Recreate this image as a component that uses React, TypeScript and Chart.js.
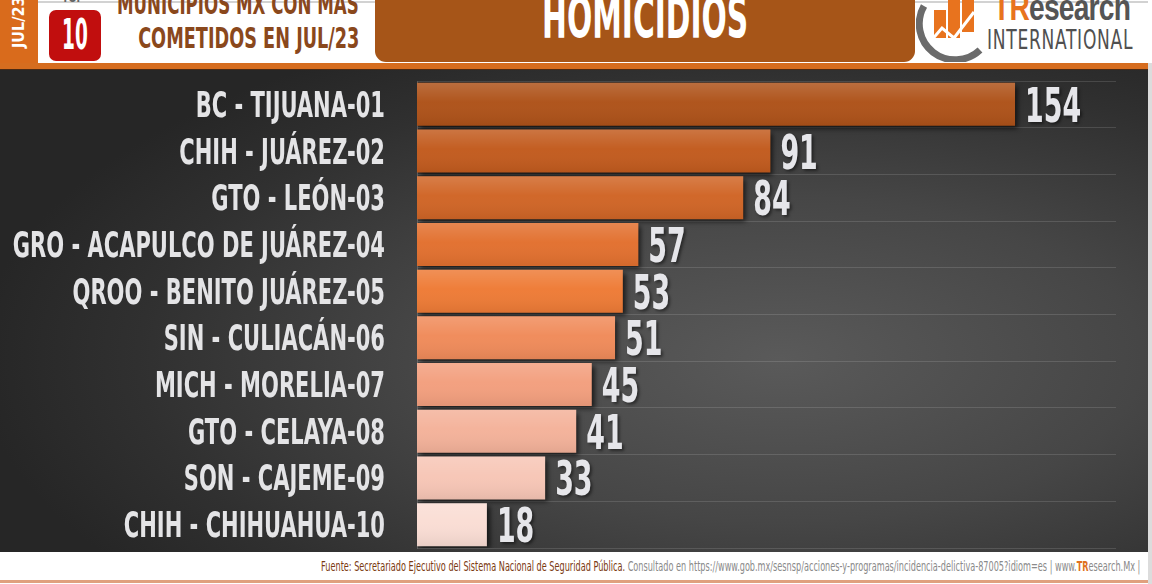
import React, { useEffect, useLayoutEffect, useRef, useState } from "react";
import { Chart, registerables } from "chart.js";

Chart.register(...registerables);

const categories = [
  "BC - TIJUANA-01",
  "CHIH - JUÁREZ-02",
  "GTO - LEÓN-03",
  "GRO - ACAPULCO DE JUÁREZ-04",
  "QROO - BENITO JUÁREZ-05",
  "SIN - CULIACÁN-06",
  "MICH - MORELIA-07",
  "GTO - CELAYA-08",
  "SON - CAJEME-09",
  "CHIH - CHIHUAHUA-10",
];
const homicidios = [154, 91, 84, 57, 53, 51, 45, 41, 33, 18];
const barColors = [
  "#AE5219",
  "#C25B1E",
  "#D06526",
  "#E2702F",
  "#EE7B36",
  "#F08B5A",
  "#F39F7E",
  "#F4B29A",
  "#F7C6B6",
  "#FADDD4",
];

const NARROW = "'Liberation Sans Narrow', 'DejaVu Sans Condensed', 'DejaVu Sans', sans-serif";

function inkWidth(ctx: CanvasRenderingContext2D, t: string) {
  const m = ctx.measureText(t);
  const w = (m.actualBoundingBoxRight || 0) + (m.actualBoundingBoxLeft || 0);
  return w > 0 ? w : m.width;
}

const labelsPlugin = {
  id: "customLabels",
  beforeDatasetsDraw(chart: any) {
    const ctx = chart.ctx;
    ctx.save();
    ctx.shadowColor = "rgba(0,0,0,0.65)";
    ctx.shadowOffsetX = 3;
    ctx.shadowOffsetY = 3;
    ctx.shadowBlur = 5;
  },
  afterDatasetsDraw(chart: any) {
    const ctx = chart.ctx;
    ctx.restore();
    const meta = chart.getDatasetMeta(0);
    const yScale = chart.scales.y;
    meta.data.forEach((bar: any) => {
      const top = bar.y - bar.height / 2;
      const bottom = bar.y + bar.height / 2;
      const g = ctx.createLinearGradient(0, top, 0, bottom);
      g.addColorStop(0, "rgba(255,255,255,0.16)");
      g.addColorStop(0.45, "rgba(255,255,255,0.02)");
      g.addColorStop(1, "rgba(0,0,0,0.07)");
      ctx.fillStyle = g;
      ctx.fillRect(bar.base, top, bar.x - bar.base, bottom - top);
    });
    // category labels
    ctx.save();
    ctx.fillStyle = "#E4E4E6";
    ctx.textAlign = "right";
    ctx.textBaseline = "alphabetic";
    ctx.font = `bold 35px ${NARROW}`;
    const sxCat = 371 / inkWidth(ctx, categories[3]);
    categories.forEach((c, i) => {
      const y = yScale.getPixelForValue(i);
      ctx.save();
      ctx.translate(385, y + 12.5);
      ctx.scale(sxCat, 1);
      ctx.fillText(c, 0, 0);
      ctx.restore();
    });
    ctx.restore();
    // value labels
    ctx.save();
    ctx.fillStyle = "#E6E6EA";
    ctx.textAlign = "left";
    ctx.textBaseline = "alphabetic";
    ctx.font = `bold 48px ${NARROW}`;
    const sxVal = 53 / inkWidth(ctx, String(homicidios[0]));
    ctx.shadowColor = "rgba(0,0,0,0.45)";
    ctx.shadowOffsetX = 2;
    ctx.shadowOffsetY = 2;
    ctx.shadowBlur = 3;
    meta.data.forEach((bar: any, i: number) => {
      ctx.save();
      ctx.translate(bar.x + 10, bar.y + 17.5);
      ctx.scale(sxVal, 1);
      ctx.fillText(String(homicidios[i]), 0, 0);
      ctx.restore();
    });
    ctx.restore();
  },
};

function ChartCanvas() {
  const ref = useRef<HTMLCanvasElement | null>(null);
  useEffect(() => {
    if (!ref.current) return;
    const chart = new Chart(ref.current, {
      type: "bar",
      data: {
        labels: categories,
        datasets: [
          {
            data: homicidios,
            backgroundColor: barColors,
            borderWidth: 0,
            barPercentage: 0.92,
            categoryPercentage: 1.0,
          },
        ],
      },
      options: {
        indexAxis: "y",
        responsive: false,
        animation: false,
        layout: { padding: { top: 11, bottom: 4, left: 0, right: 32 } },
        plugins: {
          legend: { display: false },
          tooltip: { enabled: false },
          title: { display: false },
        },
        scales: {
          x: { display: false, min: 0, max: 180 },
          y: {
            offset: true,
            ticks: { display: false },
            grid: {
              display: true,
              offset: true,
              color: "rgba(255,255,255,0.13)",
              drawTicks: false,
              lineWidth: 1,
            },
            border: { display: true, color: "rgba(255,255,255,0.22)" },
            afterFit(scale: any) {
              scale.width = 417;
            },
          },
        },
      } as any,
      plugins: [labelsPlugin],
    });
    return () => chart.destroy();
  }, []);
  return <canvas ref={ref} width={1148} height={482} style={{ display: "block" }} />;
}

const abs = (s: React.CSSProperties): React.CSSProperties => ({ position: "absolute", whiteSpace: "nowrap", ...s });

type FitProps = {
  x: number;
  top: number;
  width: number;
  align: "left" | "right";
  style?: React.CSSProperties;
  children: React.ReactNode;
};

function FitText({ x, top, width, align, style, children }: FitProps) {
  const ref = useRef<HTMLSpanElement | null>(null);
  const [sx, setSx] = useState(1);
  useLayoutEffect(() => {
    if (ref.current) {
      const w = ref.current.offsetWidth;
      if (w > 0) setSx(width / w);
    }
  }, [width]);
  const pos: React.CSSProperties = align === "left" ? { left: x } : { right: 1152 - x };
  return (
    <div style={abs({ top, ...pos, ...style })}>
      <span
        ref={ref}
        style={{
          display: "inline-block",
          transform: `scaleX(${sx})`,
          transformOrigin: align === "left" ? "left center" : "right center",
        }}
      >
        {children}
      </span>
    </div>
  );
}

function Logo() {
  return (
    <svg width={80} height={62} style={{ position: "absolute", left: 916, top: 0 }} viewBox="0 0 80 62">
      <path d="M 8 6 A 36 36 0 0 0 64 50" fill="none" stroke="#6b6b6b" strokeWidth={7} />
      <rect x={18} y={10} width={12} height={28} fill="#E8731E" />
      <rect x={32} y={0} width={12} height={38} fill="#E8731E" />
      <rect x={46} y={0} width={12} height={32} fill="#E8731E" />
      <polyline points="14,42 26,28 38,38 58,12" fill="none" stroke="#fff" strokeWidth={3} />
    </svg>
  );
}

export default function App() {
  const brown = "#8A481C";
  return (
    <div
      style={{
        position: "absolute",
        left: 0,
        top: 0,
        width: 1152,
        height: 584,
        overflow: "hidden",
        background: "#ffffff",
        fontFamily: NARROW,
      }}
    >
      {/* header */}
      <div style={abs({ left: 38, top: 1, width: 1110, height: 2, background: "#d2d2d2" })} />
      <div style={abs({ left: 0, top: 0, width: 38, height: 63, background: "#D96B1C" })} />
      <div
        style={abs({
          left: 10,
          top: 48,
          transformOrigin: "0 0",
          transform: "rotate(-90deg)",
          color: "#ffffff",
          fontWeight: "bold",
          fontSize: 16,
          lineHeight: "18px",
        })}
      >
        <FitText x={0} top={0} width={52} align="left">JUL/23</FitText>
      </div>
      <FitText x={62} top={-10} width={22} align="left" style={{ color: "#666", fontWeight: "bold", fontSize: 13 }}>
        TOP
      </FitText>
      <div
        style={abs({
          left: 49,
          top: 10,
          width: 52,
          height: 51,
          background: "#C10E0E",
          borderRadius: 7,
        })}
      />
      <FitText
        x={62}
        top={10}
        width={26}
        align="left"
        style={{ color: "#fff", fontWeight: "bold", fontSize: 42, lineHeight: "50px" }}
      >
        10
      </FitText>
      <FitText
        x={359}
        top={-16}
        width={242}
        align="right"
        style={{ color: brown, fontWeight: "bold", fontSize: 29, lineHeight: "40px" }}
      >
        MUNICIPIOS MX CON MÁS
      </FitText>
      <FitText
        x={359}
        top={18}
        width={221}
        align="right"
        style={{ color: brown, fontWeight: "bold", fontSize: 29, lineHeight: "40px" }}
      >
        COMETIDOS EN JUL/23
      </FitText>
      <div
        style={abs({
          left: 375,
          top: -12,
          width: 540,
          height: 74,
          background: "#A65518",
          borderRadius: 11,
        })}
      />
      <FitText
        x={542}
        top={-17}
        width={206}
        align="left"
        style={{ color: "#ffffff", fontWeight: "bold", fontSize: 57, lineHeight: "70px" }}
      >
        HOMICIDIOS
      </FitText>
      <Logo />
      <FitText
        x={993}
        top={-13}
        width={137}
        align="left"
        style={{
          fontFamily: "'Liberation Sans', Arial, sans-serif",
          fontWeight: "bold",
          fontSize: 36,
          lineHeight: "42px",
          color: "#555555",
          letterSpacing: -1,
        }}
      >
        <span style={{ color: "#E8731E" }}>TR</span>esearch
      </FitText>
      <FitText
        x={987}
        top={25}
        width={146}
        align="left"
        style={{ fontSize: 26, lineHeight: "30px", color: "#505050", letterSpacing: 1 }}
      >
        INTERNATIONAL
      </FitText>
      <div style={abs({ left: 0, top: 63, width: 1152, height: 6, background: "#D66D1F" })} />
      <div style={abs({ left: 0, top: 69, width: 1152, height: 1, background: "#4a2a14" })} />

      {/* chart region */}
      <div
        style={abs({
          left: 0,
          top: 70,
          width: 1148,
          height: 482,
          background:
            "radial-gradient(ellipse 70% 75% at 68% 60%, #5a5a5a 0%, #464646 45%, #303030 80%, #262626 100%)",
        })}
      >
        <ChartCanvas />
      </div>
      <div style={abs({ left: 1148, top: 63, width: 4, height: 521, background: "#dcdcdc" })} />

      {/* footer */}
      <FitText
        x={1140}
        top={557}
        width={819}
        align="right"
        style={{ fontSize: 14, lineHeight: "18px", color: "#8a8a8a" }}
      >
        <span style={{ color: "#7B3A10" }}>
          Fuente: Secretariado Ejecutivo del Sistema Nacional de Seguridad Pública.
        </span>{" "}
        Consultado en https://www.gob.mx/sesnsp/acciones-y-programas/incidencia-delictiva-87005?idiom=es | www.
        <span style={{ color: "#E07020", fontWeight: "bold" }}>TR</span>esearch.Mx |
      </FitText>
      <div style={abs({ left: 0, top: 580, width: 1148, height: 3, background: "#E0A07E" })} />
    </div>
  );
}
